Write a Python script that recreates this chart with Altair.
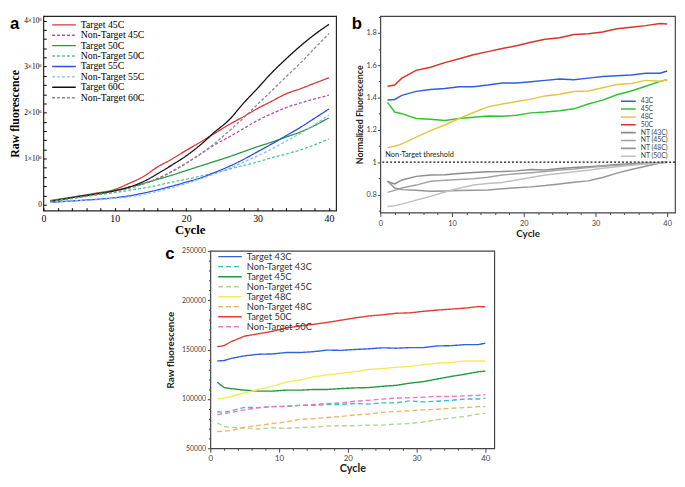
import altair as alt
import pandas as pd

# ---------------- Panel a data (values in millions) ----------------
A_CYCLES = [1, 4, 7, 10, 12, 14, 16, 18, 20, 22, 24, 26, 28, 30, 32, 34, 36, 38, 40]
A_SERIES = ["Target 45C", "Non-Target 45C", "Target 50C", "Non-Target 50C",
            "Target 55C", "Non-Target 55C", "Target 60C", "Non-Target 60C"]
A_T45 = [0.09, 0.16, 0.24, 0.33, 0.46, 0.61, 0.82, 0.99, 1.18, 1.36, 1.55, 1.74, 1.91, 2.09, 2.25, 2.41, 2.52, 2.64, 2.76]
A_NT45 = [0.08, 0.15, 0.22, 0.30, 0.37, 0.45, 0.56, 0.72, 0.90, 1.10, 1.30, 1.47, 1.65, 1.83, 1.98, 2.11, 2.21, 2.30, 2.38]
A_T50 = [0.08, 0.16, 0.23, 0.31, 0.38, 0.46, 0.55, 0.64, 0.74, 0.84, 0.94, 1.04, 1.15, 1.26, 1.36, 1.47, 1.58, 1.72, 1.89]
A_NT50 = [0.07, 0.13, 0.20, 0.26, 0.31, 0.36, 0.42, 0.49, 0.55, 0.62, 0.69, 0.77, 0.85, 0.93, 1.02, 1.10, 1.19, 1.30, 1.43]
A_T55 = [0.05, 0.08, 0.11, 0.15, 0.19, 0.25, 0.32, 0.40, 0.49, 0.58, 0.70, 0.83, 0.98, 1.15, 1.32, 1.50, 1.68, 1.88, 2.08]
A_NT55 = [0.05, 0.08, 0.10, 0.14, 0.17, 0.22, 0.29, 0.37, 0.46, 0.56, 0.67, 0.79, 0.92, 1.06, 1.21, 1.38, 1.55, 1.74, 1.95]
A_T60 = [0.07, 0.15, 0.22, 0.30, 0.38, 0.50, 0.67, 0.86, 1.06, 1.30, 1.58, 1.84, 2.20, 2.53, 2.87, 3.17, 3.45, 3.70, 3.92]
A_NT60 = [0.07, 0.14, 0.21, 0.28, 0.35, 0.45, 0.57, 0.72, 0.90, 1.10, 1.33, 1.60, 1.88, 2.18, 2.48, 2.78, 3.08, 3.40, 3.72]
A_VALUES = [A_T45, A_NT45, A_T50, A_NT50, A_T55, A_NT55, A_T60, A_NT60]
A_COLORS = ["#d8343a", "#b84aa8", "#24983a", "#4cc4a4", "#2a4ee0", "#8cbcf2", "#111111", "#8a8a8a"]
A_DASHES = [[1, 0], [3, 2], [1, 0], [3, 2], [1, 0], [3, 2], [1, 0], [3, 2]]
A_Y_TICKS = [i * 200000 for i in range(21)]

# ---------------- Panel b data ----------------
B_CYCLES = [1, 2, 3, 5, 7, 9, 11, 13, 15, 17, 19, 21, 23, 25, 27, 29, 31, 33, 35, 37, 39, 40]
B_SERIES = ["43C", "45C", "48C", "50C", "NT (43C)", "NT (45C)", "NT (48C)", "NT (50C)"]
B_43 = [1.384, 1.388, 1.413, 1.438, 1.45, 1.456, 1.467, 1.467, 1.477, 1.49, 1.49, 1.498, 1.506, 1.514, 1.51, 1.52, 1.53, 1.535, 1.54, 1.55, 1.55, 1.564]
B_45 = [1.37, 1.31, 1.30, 1.27, 1.265, 1.258, 1.27, 1.278, 1.285, 1.284, 1.29, 1.305, 1.31, 1.318, 1.33, 1.36, 1.384, 1.417, 1.44, 1.47, 1.5, 1.51]
B_48 = [1.09, 1.098, 1.113, 1.155, 1.195, 1.23, 1.27, 1.307, 1.342, 1.36, 1.375, 1.39, 1.41, 1.42, 1.437, 1.44, 1.46, 1.48, 1.487, 1.506, 1.5, 1.51]
B_50 = [1.47, 1.477, 1.52, 1.568, 1.587, 1.616, 1.64, 1.665, 1.684, 1.703, 1.72, 1.742, 1.76, 1.77, 1.79, 1.795, 1.806, 1.825, 1.835, 1.845, 1.858, 1.855]
B_NT43 = [0.88, 0.865, 0.89, 0.912, 0.92, 0.922, 0.93, 0.936, 0.94, 0.942, 0.946, 0.955, 0.952, 0.96, 0.967, 0.972, 0.978, 0.985, 0.99, 0.994, 0.998, 1.0]
B_NT45 = [0.813, 0.825, 0.84, 0.858, 0.882, 0.888, 0.892, 0.897, 0.907, 0.92, 0.928, 0.935, 0.942, 0.952, 0.958, 0.966, 0.975, 0.98, 0.986, 0.99, 0.997, 1.0]
B_NT48 = [0.884, 0.84, 0.83, 0.826, 0.82, 0.822, 0.824, 0.826, 0.828, 0.835, 0.842, 0.847, 0.855, 0.865, 0.876, 0.884, 0.905, 0.932, 0.955, 0.975, 0.995, 1.0]
B_NT50 = [0.726, 0.73, 0.74, 0.765, 0.788, 0.815, 0.838, 0.858, 0.868, 0.874, 0.89, 0.905, 0.92, 0.93, 0.94, 0.95, 0.962, 0.972, 0.98, 0.988, 0.996, 1.0]
B_VALUES = [B_43, B_45, B_48, B_50, B_NT43, B_NT45, B_NT48, B_NT50]
B_COLORS = ["#2f5fe0", "#2ec42e", "#e8c444", "#d8342c", "#8c8c8c", "#a4a4a4", "#969696", "#c0c0c0"]
B_THRESHOLD = [1.0]
B_THRESHOLD_LABEL = ["Non-Target threshold"]
B_THRESHOLD_LABEL_CYCLE = [0.7]

# ---------------- Panel c data (values in thousands) ----------------
C_SERIES = ["Target 43C", "Non-Target 43C", "Target 45C", "Non-Target 45C",
            "Target 48C", "Non-Target 48C", "Target 50C", "Non-Target 50C"]
C_T43 = [138.5, 138.9, 141.0, 143.7, 145.3, 145.6, 147.0, 147.0, 147.9, 149.5, 149.2, 150.1, 150.8, 151.8, 151.4, 152.0, 152.0, 153.7, 154.0, 155.0, 155.0, 156.6]
C_NT43 = [87.0, 86.5, 88.0, 91.5, 91.2, 92.2, 92.2, 93.5, 93.5, 94.4, 94.4, 95.4, 94.8, 96.0, 96.0, 98.0, 97.0, 97.7, 98.6, 99.9, 99.9, 100.9]
C_T45 = [117.0, 111.5, 110.5, 108.9, 108.0, 108.0, 108.9, 108.9, 109.6, 109.6, 110.5, 111.2, 111.5, 112.8, 113.8, 116.0, 117.6, 120.2, 122.8, 125.0, 127.6, 128.2]
C_NT45 = [75.8, 71.9, 71.3, 70.3, 69.6, 70.9, 70.3, 70.9, 71.6, 72.5, 72.9, 72.9, 73.5, 73.5, 74.5, 75.1, 76.7, 79.0, 80.6, 82.2, 84.8, 85.4]
C_T48 = [100.2, 100.9, 102.5, 106.3, 109.6, 112.8, 117.0, 119.2, 122.4, 124.4, 126.0, 127.6, 129.9, 130.8, 132.1, 132.8, 134.7, 136.3, 137.0, 138.5, 138.5, 138.5]
C_NT48 = [67.0, 67.3, 68.0, 71.3, 73.2, 75.1, 76.7, 79.3, 80.0, 81.2, 82.2, 83.8, 84.8, 86.4, 87.4, 88.0, 89.0, 89.6, 90.6, 91.2, 92.2, 92.2]
C_T50 = [153.0, 154.0, 158.0, 163.7, 166.0, 168.5, 171.7, 174.0, 175.6, 177.5, 179.8, 182.0, 184.0, 185.2, 186.8, 187.2, 188.8, 190.0, 191.0, 192.0, 193.6, 193.3]
C_NT50 = [84.1, 85.0, 86.4, 89.0, 91.2, 92.2, 92.8, 93.5, 94.4, 95.4, 96.0, 97.7, 98.6, 99.9, 100.9, 101.2, 101.8, 102.5, 102.5, 103.1, 103.8, 104.4]
C_VALUES = [C_T43, C_NT43, C_T45, C_NT45, C_T48, C_NT48, C_T50, C_NT50]
C_COLORS = ["#2f62dc", "#2ec4c0", "#1c9a3e", "#acd890", "#f6ea5a", "#f2b464", "#e23c32", "#f274cc"]
C_DASHES = [[1, 0], [5, 3], [1, 0], [5, 3], [1, 0], [5, 3], [1, 0], [5, 3]]

SERIF = "Liberation Serif"
SANS = "Lato"


def table(cycles, series, values, scale, key):
    rows = []
    for name, vals in zip(series, values):
        for c, v in zip(cycles, vals):
            rows.append({"cycle": c, "val": v * scale, key: name})
    return pd.DataFrame(rows)


def panel_label(letter, x, y, size=17):
    return alt.Chart(pd.DataFrame({"t": [letter]})).mark_text(
        font="Liberation Sans", fontSize=size, fontWeight="bold", align="left",
        baseline="alphabetic", color="black"
    ).encode(text="t:N", x=alt.value(x), y=alt.value(y))


minor_x = list(range(0, 42, 2))
major_x_test = "datum.value % 10 == 0"

# ---------------- Panel a ----------------
A_W, A_H = 298, 198
dfa = table(A_CYCLES, A_SERIES, A_VALUES, 1e6, "sa")
leg_a = alt.Legend(title=None, orient="none", legendX=8, legendY=4, symbolType="stroke",
                   symbolSize=576, symbolStrokeWidth=1.4, labelFont=SERIF, labelFontSize=10,
                   labelColor="black", clipHeight=9.8, rowPadding=-0.4, padding=0, labelOffset=4)
lines_a = alt.Chart(dfa).mark_line(strokeWidth=1.3, interpolate="monotone").encode(
    x=alt.X("cycle:Q", scale=alt.Scale(domain=[0, 41], nice=False, zero=False),
            axis=alt.Axis(values=minor_x, labelExpr=f"{major_x_test} ? datum.label : ''",
                          title="Cycle", labelFont=SERIF, labelFontSize=10, labelOverlap=False,
                          labelColor="black", tickColor="black", tickSize=3, offset=-3, domain=False,
                          grid=False, labelFlush=False, titleFont=SERIF, titleFontSize=13,
                          titleFontWeight="bold", titleColor="black", titlePadding=0, labelPadding=3)),
    y=alt.Y("val:Q", scale=alt.Scale(domain=[-130000, 4100000], nice=False, zero=False),
            axis=alt.Axis(values=A_Y_TICKS,
                          labelExpr="datum.value % 1000000 != 0 ? '' : (datum.value == 0 ? '0' : format(datum.value / 1000000, 'd') + '×10⁶')",
                          title="Raw fluorescence", labelFont=SERIF, labelFontSize=7.5, labelColor="black",
                          labelOverlap=False, tickColor="black", tickSize=3, offset=-3, domain=False,
                          grid=False, labelFlush=False, titleFont=SERIF, titleFontSize=12,
                          titleFontWeight="bold", titleColor="black", titlePadding=2, labelPadding=2)),
    color=alt.Color("sa:N", scale=alt.Scale(domain=A_SERIES, range=A_COLORS), legend=leg_a),
    strokeDash=alt.StrokeDash("sa:N", scale=alt.Scale(domain=A_SERIES, range=A_DASHES), legend=leg_a),
)
chart_a = alt.layer(lines_a, panel_label("a", -34, 13)).properties(
    width=A_W, height=A_H, view=alt.ViewBackground(stroke="#222222", strokeWidth=1.2))

# ---------------- Panel b ----------------
B_W, B_H = 300, 200
dfb = table(B_CYCLES, B_SERIES, B_VALUES, 1.0, "sb")
b_y_vals = [round(0.7 + 0.1 * i, 1) for i in range(13)]
b_y_test = "abs(datum.value * 5 - round(datum.value * 5)) < 0.001"
leg_b = alt.Legend(title=None, orient="none", legendX=244, legendY=83, symbolType="stroke",
                   symbolSize=225, symbolStrokeWidth=1.6, labelFont=SANS, labelFontSize=7,
                   labelColor="#444444", clipHeight=7.3, rowPadding=-1.6, padding=0, labelOffset=4)
x_b = alt.X("cycle:Q", scale=alt.Scale(domain=[0, 41.1], nice=False, zero=False),
            axis=alt.Axis(values=minor_x, labelExpr=f"{major_x_test} ? datum.label : ''",
                          tickSize={"condition": {"test": major_x_test, "value": 4}, "value": 2},
                          title="Cycle", labelFont=SANS, labelFontSize=7.5, labelColor="#444444",
                          tickColor="#444444", domain=False, grid=False, labelFlush=False,
                          labelOverlap=False, titleFont=SANS, titleFontSize=10, titleFontWeight="bold",
                          titleColor="#222222", titlePadding=2, labelPadding=3))
y_b = alt.Y("val:Q", scale=alt.Scale(domain=[0.688, 1.904], nice=False, zero=False),
            axis=alt.Axis(values=b_y_vals, labelExpr=f"{b_y_test} ? format(datum.value, '~g') : ''",
                          tickSize={"condition": {"test": b_y_test, "value": 3}, "value": 2},
                          title="Normalized Fluorescence", labelFont=SANS, labelFontSize=7.5,
                          labelColor="#444444", tickColor="#444444", domain=False, grid=False,
                          labelFlush=False, labelOverlap=False, titleFont=SANS, titleFontSize=9,
                          titleFontWeight="bold", titleColor="#222222", titlePadding=2, labelPadding=1))
lines_b = alt.Chart(dfb).mark_line(strokeWidth=1.5).encode(
    x=x_b, y=y_b,
    color=alt.Color("sb:N", scale=alt.Scale(domain=B_SERIES, range=B_COLORS), legend=leg_b),
)
thr = alt.Chart(pd.DataFrame({"val": B_THRESHOLD})).mark_rule(
    strokeDash=[2, 2], color="#111111", strokeWidth=1.1).encode(y=y_b)
thr_text = alt.Chart(pd.DataFrame({"cycle": B_THRESHOLD_LABEL_CYCLE, "val": B_THRESHOLD,
                                   "t": B_THRESHOLD_LABEL})).mark_text(
    font=SANS, fontSize=7.5, align="left", baseline="bottom", dy=-3, color="#222222"
).encode(x=x_b, y=y_b, text="t:N")
chart_b = alt.layer(lines_b, thr, thr_text, panel_label("b", -29, 13)).properties(
    width=B_W, height=B_H, view=alt.ViewBackground(stroke="#444444", strokeWidth=1.2))

# ---------------- Panel c ----------------
C_W, C_H = 289, 201
dfc = table(B_CYCLES, C_SERIES, C_VALUES, 1000.0, "sc")
c_y_vals = list(range(50000, 250001, 10000))
c_y_test = "datum.value % 50000 == 0"
leg_c = alt.Legend(title=None, orient="none", legendX=7, legendY=1, symbolType="stroke",
                   symbolSize=576, symbolStrokeWidth=1.4, labelFont=SANS, labelFontSize=9.5,
                   labelColor="#333333", clipHeight=9.8, rowPadding=-0.8, padding=0, labelOffset=4)
lines_c = alt.Chart(dfc).mark_line(strokeWidth=1.4).encode(
    x=alt.X("cycle:Q", scale=alt.Scale(domain=[0, 41.3], nice=False, zero=False),
            axis=alt.Axis(values=minor_x, labelExpr=f"{major_x_test} ? datum.label : ''",
                          tickSize={"condition": {"test": major_x_test, "value": 4}, "value": 2},
                          title="Cycle", labelFont=SANS, labelFontSize=8, labelColor="#444444",
                          tickColor="#444444", domain=False, grid=False, labelFlush=False,
                          labelOverlap=False, titleFont=SANS, titleFontSize=11, titleFontWeight="bold",
                          titleColor="#222222", titlePadding=1, labelPadding=2)),
    y=alt.Y("val:Q", scale=alt.Scale(domain=[50000, 250000], nice=False, zero=False),
            axis=alt.Axis(values=c_y_vals, labelExpr=f"{c_y_test} ? format(datum.value, 'd') : ''",
                          tickSize={"condition": {"test": c_y_test, "value": 3}, "value": 2},
                          title="Raw fluorescence", labelFont=SANS, labelFontSize=7,
                          labelColor="#444444", tickColor="#444444", domain=False, grid=False,
                          labelFlush=False, labelOverlap=False, titleFont=SANS, titleFontSize=10,
                          titleFontWeight="bold", titleColor="#222222", titlePadding=6, labelPadding=2)),
    color=alt.Color("sc:N", scale=alt.Scale(domain=C_SERIES, range=C_COLORS), legend=leg_c),
    strokeDash=alt.StrokeDash("sc:N", scale=alt.Scale(domain=C_SERIES, range=C_DASHES), legend=leg_c),
)
chart_c = alt.layer(lines_c, panel_label("c", -46, 8)).properties(
    width=C_W, height=C_H, view=alt.ViewBackground(stroke="#444444", strokeWidth=1.2))

spacer = alt.Chart(pd.DataFrame({"v": [0]})).mark_point(opacity=0).encode(
    x=alt.value(0), y=alt.value(0)
).properties(width=123, height=10, view=alt.ViewBackground(strokeWidth=0))

top = alt.hconcat(chart_a, chart_b, spacing=14).resolve_scale(
    x="independent", y="independent", color="independent", strokeDash="independent")
bottom = alt.hconcat(spacer, chart_c, spacing=0).resolve_scale(
    x="independent", y="independent", color="independent", strokeDash="independent")
chart = alt.vconcat(top, bottom, spacing=4).resolve_scale(
    x="independent", y="independent", color="independent", strokeDash="independent"
).properties(padding={"left": 0, "top": 0, "right": 0, "bottom": 0}).configure(
    background="white"
)

chart.save("out.html", embed_options={"renderer": "svg", "actions": False})
